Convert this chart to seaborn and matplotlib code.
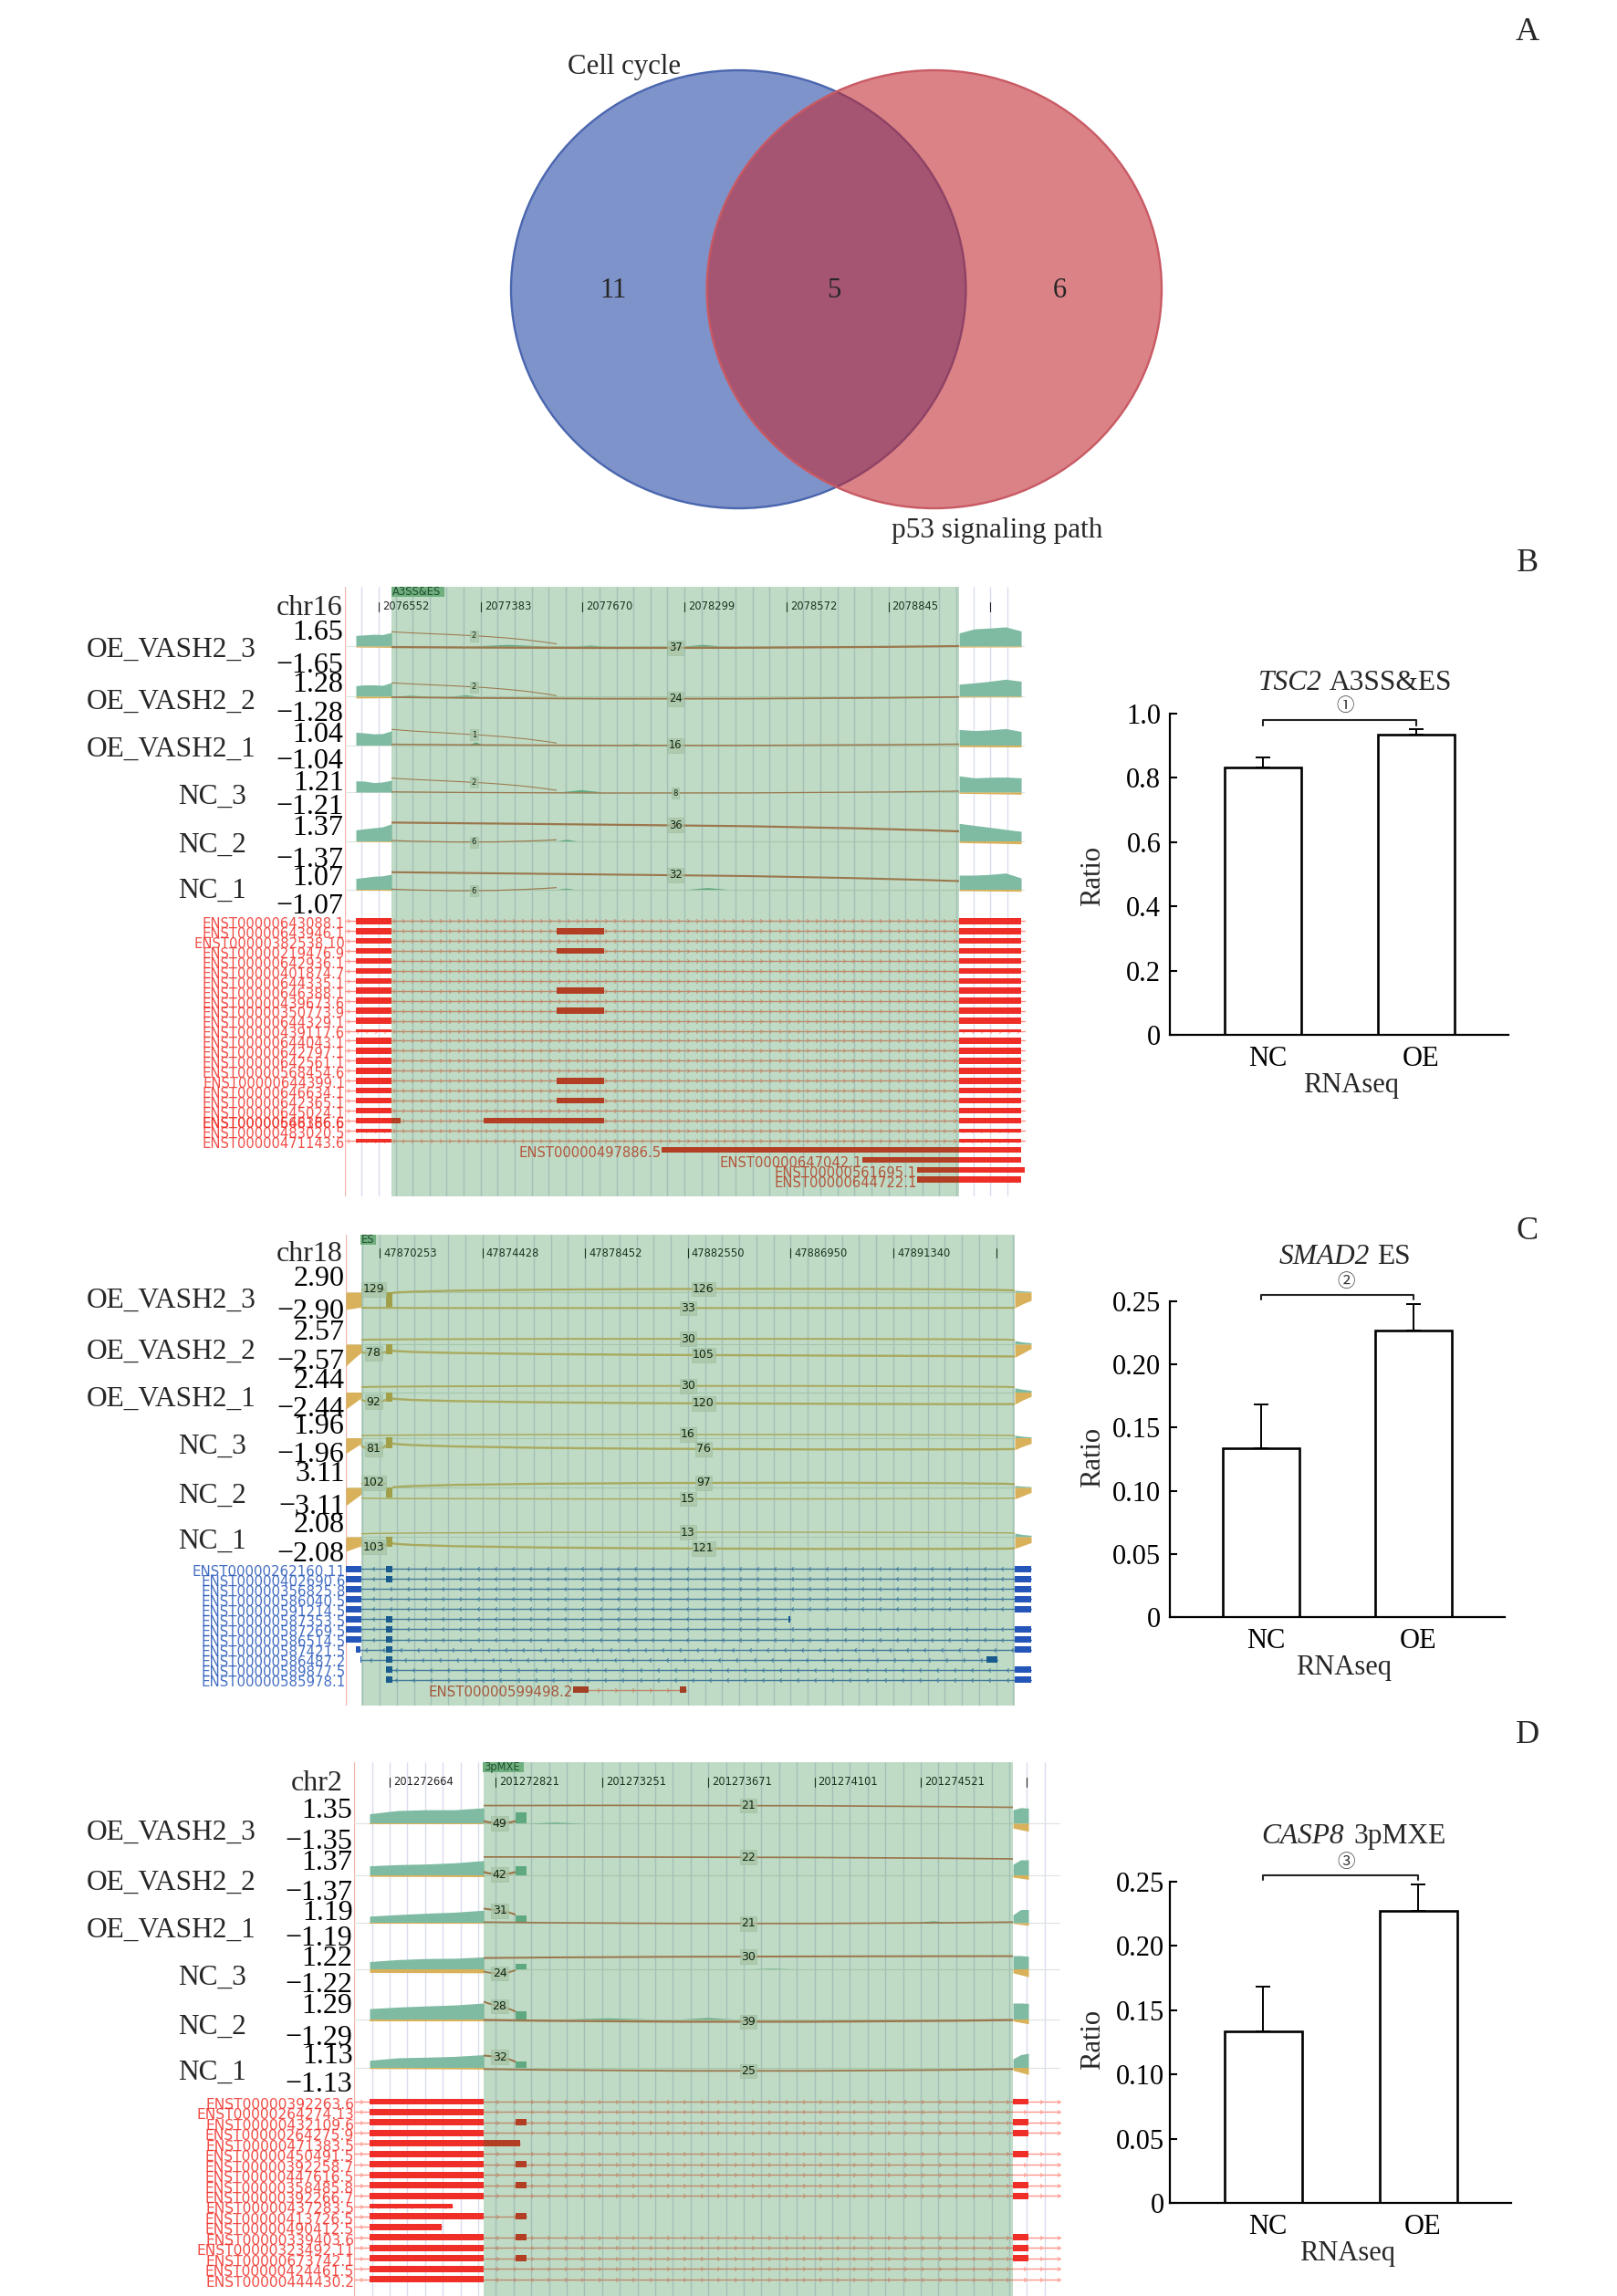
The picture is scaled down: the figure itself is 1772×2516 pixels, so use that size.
#Recreates the four panel figure: Venn diagram, then three splice plots with bar charts.
import numpy as np
import pandas as pd
import matplotlib
matplotlib.use("Agg")
import matplotlib.pyplot as plt
from matplotlib.patches import Circle, PathPatch
from matplotlib.path import Path
from matplotlib.transforms import ScaledTranslation
import seaborn as sns

#Venn data
venn_names = ["Cell cycle", "p53 signaling path"]
venn_counts = [11, 5, 6]

#Bar chart data
bar_groups = ["NC", "OE"]
B_ratio = [0.832, 0.936]
B_err = [0.032, 0.016]
C_ratio = [0.1336, 0.2268]
C_err = [0.0351, 0.0210]
D_ratio = [0.1336, 0.2270]
D_err = [0.0349, 0.0206]
B_yticks = [0, 0.2, 0.4, 0.6, 0.8, 1.0]
B_yticklabels = ["0", "0.2", "0.4", "0.6", "0.8", "1.0"]
CD_yticks = [0, 0.05, 0.10, 0.15, 0.20, 0.25]
CD_yticklabels = ["0", "0.05", "0.10", "0.15", "0.20", "0.25"]

#Track names and scales
samples = ["OE_VASH2_3", "OE_VASH2_2", "OE_VASH2_1", "NC_3", "NC_2", "NC_1"]
B_scales = [1.65, 1.28, 1.04, 1.21, 1.37, 1.07]
C_scales = [2.90, 2.57, 2.44, 1.96, 3.11, 2.08]
D_scales = [1.35, 1.37, 1.19, 1.22, 1.29, 1.13]
B_ticklabels = ["2076552", "2077383", "2077670", "2078299", "2078572", "2078845", ""]
C_ticklabels = ["47870253", "47874428", "47878452", "47882550", "47886950", "47891340", ""]
D_ticklabels = ["201272664", "201272821", "201273251", "201273671", "201274101", "201274521", ""]

#Exon spans, x in tick steps from the first tick
B_left = (-0.224, 0.125)
B_alt = (1.746, 2.211)
B_right = (5.694, 6.303)
C_left = (-0.329, -0.178)
C_mini = (0.062, 0.124)
C_right = (6.181, 6.341)
D_left = (-0.189, 0.885)
D_mini = (1.186, 1.289)
D_right = (5.868, 6.014)

B_left_cov = [[.65, .68, .72, .70, .83], [.73, .78, .78, .75, .94], [.97, .92, .85, .87, 1.08],
              [.95, .92, .80, .85, 1.0], [.69, .76, .82, .88, 1.07], [.77, .84, .92, .95, 1.07]]
B_right_cov = [[.80, 1.05, 1.10, 1.17, .92], [.83, .92, 1.03, 1.17, 1.03], [1.18, 1.10, 1.15, 1.25, 1.03],
               [1.37, 1.20, 1.25, 1.27, 1.20], [1.10, .97, .85, .72, .60], [1.0, 1.0, 1.05, 1.15, .80]]
B_left_neg = [[-.06, -.08], [-.12, -.10], [-.05, -.05], [-.03, -.03], [-.03, -.05], [-.06, -.08]]
B_right_neg = [[-.06, -.05], [-.06, -.05], [-.12, -.14], [-.10, -.18], [-.10, -.18], [-.10, -.14]]
B_bumps = [[(.91, 1.63, .10), (1.94, 2.21, .06), (3.0, 3.36, .10)],
           [(.16, .46, .07), (.72, .98, .10)],
           [(.87, 1.03, .25), (2.13, 2.21, .07), (2.4, 2.64, .10)],
           [(1.76, 2.21, .20), (.64, .79, .05)],
           [(1.75, 1.94, .10)],
           [(1.75, 1.92, .08), (3.03, 3.42, .12)]]

C_left_neg = [[-1.05, -.98, -.90], [-1.5, -1.0, -.56], [-1.2, -.8, -.40],
              [-1.1, -.75, -.40], [-1.1, -.75, -.40], [-1.0, -.8, -.62]]
C_mini_neg = [[-.90, -.90], [-.66, -.66], [-.68, -.68], [-.74, -.74], [-.60, -.60], [-.69, -.69]]
C_right_neg = [[-.95, -.70, -.50], [-.90, -.60, -.30], [-.85, -.55, -.30],
               [-.85, -.60, -.40], [-.70, -.50, -.30], [-.80, -.60, -.40]]
C_right_cov = [[.12, .08, .05], [.25, .15, .10], [.30, .20, .12],
               [.18, .10, .05], [.12, .08, .05], [.25, .15, .10]]

D_left_cov = [[.60, .80, .85, .85, .97], [.60, .68, .72, .80, .95], [.50, .62, .72, .80, .95],
              [.55, .70, .78, .80, .90], [.65, .75, .82, .88, 1.0], [.50, .68, .72, .78, .90]]
D_mini_cov = [[.70, .70], [.55, .55], [.54, .54], [.40, .40], [.47, .47], [.43, .43]]
D_right_cov = [[.85, .98, .95], [.70, 1.0, 1.0], [.60, 1.0, 1.0], [1.0, 1.0, .95], [1.0, 1.0, .98], [.60, .90, 1.0]]
D_left_neg = [[-.05, -.05], [-.10, -.12], [-.10, -.10], [-.27, -.30], [-.12, -.12], [-.08, -.12]]
D_right_neg = [[-.30, -.50], [-.15, -.30], [-.05, -.20], [-.30, -.60], [-.12, -.30], [-.20, -.50]]
D_bumps = [[(1.30, 1.82, .07)], [], [(4.92, 5.31, .15)], [(3.42, 3.78, .04)],
           [(1.67, 2.45, .07), (2.75, 3.23, .09)], []]

#Junctions: start, end, height at start, middle, end (fraction of scale), read count
B_junctions = [
    [(.125, 1.746, .87, .63, .13, 2), (.125, 5.694, -.06, -.11, 0, 37)],
    [(.125, 1.746, .92, .64, .04, 2), (.125, 5.694, -.06, -.17, -.05, 24)],
    [(.125, 1.746, 1.19, .79, .15, 1), (.125, 5.694, .06, -.03, .07, 16)],
    [(.125, 1.746, 1.18, .82, .15, 2), (.125, 5.694, .02, -.08, .08, 8)],
    [(.125, 5.694, 1.15, .98, .60, 36), (.125, 1.746, .03, -.07, .07, 6)],
    [(.125, 5.694, 1.21, 1.0, .58, 32), (.125, 1.746, .01, -.10, .12, 6)],
]
C_junctions = [
    [(-.178, .062, .10, .17, .10, 129), (.124, 6.181, -.05, .20, .10, 126), (-.178, 6.181, -.95, -.97, -.95, 33)],
    [(-.178, .062, -.50, -.62, -.50, 78), (-.178, 6.181, .30, .37, .30, 30), (.124, 6.181, -.44, -.75, -.84, 105)],
    [(-.178, .062, -.50, -.68, -.50, 92), (-.178, 6.181, .35, .44, .35, 30), (.124, 6.181, -.45, -.80, -.85, 120)],
    [(-.178, .062, -.50, -.80, -.50, 81), (-.178, 6.181, .15, .23, .15, 16), (.124, 6.181, -.40, -.80, -.80, 76)],
    [(-.178, .062, .20, .28, .20, 102), (.124, 6.181, 0, .28, .20, 97), (-.178, 6.181, -.65, -.70, -.65, 15)],
    [(-.178, .062, -.50, -.69, -.50, 103), (-.178, 6.181, .20, .31, .25, 13), (.124, 6.181, -.45, -.81, -.80, 121)],
]
D_junctions = [
    [(.885, 5.868, 1.11, 1.11, 1.0, 21), (.885, 1.186, .14, 0, .14, 49)],
    [(.885, 5.868, 1.19, 1.17, 1.06, 22), (.885, 1.186, .19, .03, .19, 42)],
    [(.885, 1.186, 1.07, .92, .60, 31), (.885, 5.868, .05, -.06, .05, 21)],
    [(.885, 5.868, .82, .93, .96, 30), (.885, 1.186, -.20, -.34, -.10, 24)],
    [(.885, 1.186, 1.09, .80, .46, 28), (.885, 5.868, -.06, -.17, -.06, 39)],
    [(.885, 1.186, .84, .72, .39, 32), (.885, 5.868, -.12, -.25, -.12, 25)],
]

#Transcripts
B_names = ["ENST00000643088.1", "ENST00000643946.1", "ENST00000382538.10", "ENST00000219476.9",
           "ENST00000642936.1", "ENST00000401874.7", "ENST00000644335.1", "ENST00000646388.1",
           "ENST00000439673.6", "ENST00000350773.9", "ENST00000644329.1", "ENST00000439117.6",
           "ENST00000644043.1", "ENST00000642797.1", "ENST00000642561.1", "ENST00000568454.6",
           "ENST00000644399.1", "ENST00000646634.1", "ENST00000642365.1", "ENST00000645024.1",
           "ENST00000648366.6", "ENST00000483020.5", "ENST00000471143.6",
           "ENST00000497886.5", "ENST00000647042.1", "ENST00000561695.1", "ENST00000644722.1"]
B_with_alt = [1, 3, 7, 9, 16, 18]
B_thin = {11: .28, 21: .38, 22: .38}
B_late_exons = [(2.775, 6.303), (4.745, 6.303), (5.282, 6.339), (5.282, 6.303)]
B_wide_exons = [(-.224, .215), (1.03, 2.211), (5.694, 6.303)]

C_names = ["ENST00000262160.11", "ENST00000402690.6", "ENST00000356825.8", "ENST00000586040.5",
           "ENST00000591214.5", "ENST00000587353.5", "ENST00000587269.5", "ENST00000586514.5",
           "ENST00000587421.5", "ENST00000586487.2", "ENST00000589877.5", "ENST00000585978.1",
           "ENST00000599498.2"]
C_exons = [[C_left, C_mini, C_right], [C_left, C_mini, C_right], [C_left, C_right], [C_left, C_right],
           [C_left, C_right], [C_left, C_mini, (3.979, 3.996)], [C_left, C_mini, C_right],
           [C_left, C_mini, C_right], [(-.231, -.187), C_mini, C_right],
           [(-.187, -.178), C_mini, (5.906, 6.009)], [C_mini, C_right], [C_mini, C_right],
           [(1.883, 2.034), (2.922, 2.984)]]
C_lines = [(-.329, 6.341)] * 5 + [(-.329, 3.996), (-.329, 6.341), (-.329, 6.341), (-.231, 6.341),
                                  (-.187, 6.009), (.062, 6.341), (.062, 6.341), (1.883, 2.984)]

D_names = ["ENST00000392263.6", "ENST00000264274.13", "ENST00000432109.6", "ENST00000264275.9",
           "ENST00000471383.5", "ENST00000450491.5", "ENST00000392258.7", "ENST00000447616.5",
           "ENST00000358485.8", "ENST00000392266.7", "ENST00000437283.5", "ENST00000413726.5",
           "ENST00000490412.5", "ENST00000339403.6", "ENST00000323492.11", "ENST00000673742.1",
           "ENST00000424461.5", "ENST00000444430.2"]
D_exons = [[D_left, D_right], [D_left], [D_left, D_mini, D_right], [D_left, D_right],
           [(-.189, 1.229)], [D_left, D_right], [D_left, D_mini], [D_left],
           [D_left, D_mini, D_right], [D_left, D_right], [(-.189, .593)], [D_left, D_mini],
           [(-.189, .49)], [D_left, D_mini, D_right], [D_left, D_right], [D_left, D_mini, D_right],
           [D_left], [D_left]]
D_line_ends = [6.314, 6.314, 6.314, 6.314, 1.229, 6.314, 6.314, 6.314, 6.314, 6.314, .593, 1.289,
               .49, 6.314, 6.314, 6.314, 6.314, 6.314]

#Page layout in pixels
W, H = 1772, 2516
GREEN = "#7FBBA3"
ORANGE = "#D8B15A"
RED = "#EE2E27"
BLUE = "#2455B8"

sns.set_theme(style="white")
plt.rcParams["font.family"] = ["Liberation Serif", "DejaVu Sans"]
plt.rcParams["axes.unicode_minus"] = True

fig = plt.figure(figsize=(W / 100, H / 100), dpi=100, facecolor="white")


def rect(left, top, right, bottom):
    return [left / W, 1 - bottom / H, (right - left) / W, (bottom - top) / H]


def put(x, y, s, **kw):
    kw.setdefault("fontsize", 22)
    kw.setdefault("ha", "center")
    kw.setdefault("va", "center")
    return fig.text(x / W, 1 - y / H, s, **kw)


#Panel A, the red circle lies over the blue edge
ax = fig.add_axes(rect(560, 77, 1273, 557))
ax.set_xlim(-1, 1.861)
ax.set_ylim(-1, 1)
ax.axis("off")
ax.add_patch(Circle((0, 0), 1, fc="#3B59AF", alpha=.65, ec="none"))
ax.add_patch(Circle((0, 0), 1, fc="none", ec="#4A66AE", lw=1.7, clip_on=False))
ax.add_patch(Circle((.861, 0), 1, fc="#C12830", alpha=.58, ec="none"))
ax.add_patch(Circle((.861, 0), 1, fc="none", ec="#C85A64", lw=1.7, clip_on=False))
put(684, 74, venn_names[0], fontsize=22.2)
put(1093, 581, venn_names[1], fontsize=22.5)
for x, n in zip([672, 914, 1161], venn_counts):
    put(x, 318, str(n), fontsize=22)
for y, s in zip([36, 618, 1350, 1901], "ABCD"):
    put(1674, y, s, fontsize=26)


def bar_panel(box, centers, ratio, err, yticks, yticklabels, bracket, mark, title, pos, pad):
    #box is left, top, right, bottom of the axes
    left, top, right, bottom = box
    ax = fig.add_axes(rect(*box))
    df = pd.DataFrame({"group": bar_groups, "ratio": ratio})
    sns.barplot(data=df, x="group", y="ratio", color="white", saturation=1, width=.5,
                edgecolor="black", linewidth=1.9, errorbar=None, ax=ax)
    ax.errorbar([0, 1], ratio, yerr=[[0, 0], err], fmt="none", ecolor="black",
                elinewidth=1.4, capsize=5.8, capthick=1.4)
    step = centers[1] - centers[0]
    ax.set_xlim((left - centers[0]) / step, (right - centers[0]) / step)
    ax.set_ylim(0, yticks[-1])
    ax.set_yticks(yticks)
    ax.set_yticklabels(yticklabels, fontsize=22)
    ax.tick_params(axis="y", direction="in", length=5.6, width=1.5, left=True, pad=pad, colors="black")
    ax.tick_params(axis="x", length=0, pad=9, labelsize=22, colors="black")
    for lab in ax.get_xticklabels():
        lab.set_transform(lab.get_transform() + ScaledTranslation(5 / 100, 0, fig.dpi_scale_trans))
    sns.despine(ax=ax)
    ax.spines["left"].set_linewidth(1.6)
    ax.spines["bottom"].set_linewidth(1.6)
    ax.spines["left"].set_color("black")
    ax.spines["bottom"].set_color("black")
    ax.set_xlabel("")
    ax.set_ylabel("")
    y_top, y_drop = bracket
    ax.plot([0, 0, 1, 1], [y_drop, y_top, y_top, y_drop], color="#222222", lw=1.5, clip_on=False)
    put(*mark[:2], mark[2], fontsize=14, family=["Noto Sans CJK SC"], color="#333333")
    #italic gene name, then the event type
    put(title[0], title[2], title[3], ha="right", va="baseline", style="italic", fontsize=22.6)
    put(title[1], title[2], title[4], ha="left", va="baseline", fontsize=22.6)
    put(pos[0], pos[1], "RNAseq")
    put(1198, pos[2], "Ratio", rotation=90)


bar_panel((1282, 782, 1653, 1134), (1384, 1552), B_ratio, B_err, B_yticks, B_yticklabels,
          (.980, .963), (1474, 774, "\u2460"), (1449, 1457, 756, "TSC2", "A3SS&ES"), (1481, 1189, 960), 7)
bar_panel((1282, 1426, 1649, 1772), (1382, 1549), C_ratio, C_err, CD_yticks, CD_yticklabels,
          (.2552, .2518), (1475, 1405, "\u2461"), (1501, 1509, 1385, "SMAD2", "ES"), (1473, 1827, 1597), 7)
bar_panel((1282, 2062, 1656, 2414), (1384, 1554), D_ratio, D_err, CD_yticks, CD_yticklabels,
          (.2551, .2515), (1475, 2040, "\u2462"), (1473, 1483, 2020, "CASP8", "3pMXE"), (1477, 2470, 2235), 4)


def fill_cov(ax, span, values, scale, color):
    xs = np.linspace(span[0], span[1], len(values))
    ax.fill_between(xs, 0, np.array(values) * scale, color=color, lw=0, clip_on=False)


def draw_junction(ax, junction, scale, color, size, bend):
    x0, x1, y0, ym, y1, count = junction
    dx = (x1 - x0) * bend
    c = (8 * ym - y0 - y1) / 6
    verts = [(x0, y0 * scale), (x0 + dx, c * scale), (x1 - dx, c * scale), (x1, y1 * scale)]
    codes = [Path.MOVETO, Path.CURVE4, Path.CURVE4, Path.CURVE4]
    ax.add_patch(PathPatch(Path(verts, codes), fc="none", ec=color, lw=.7 + min(count, 40) / 40,
                           clip_on=False))
    fs = size if count >= 10 else 6
    ax.text((x0 + x1) / 2, ym * scale, str(count), fontsize=fs, family="DejaVu Sans", ha="center",
            va="center", color="#111111", clip_on=False,
            bbox=dict(fc="#E4DFD6", ec="#C9D8CC", alpha=.75, pad=1, lw=.5))


def draw_transcript(ax, row, name, exons, line, label_x, color, line_color, height, step, direction, size=10.6):
    if line is not None:
        ax.plot(line, [row, row], color=line_color, lw=1, clip_on=False, zorder=1)
        xs = np.arange(line[0] + step / 2, line[1], step)
        arrow = Path([(-direction, 1), (0, 0), (-direction, -1)])
        ax.plot(xs, [row] * len(xs), ls="none", marker=arrow, ms=3.2, mfc="none", mec=line_color,
                mew=.7, clip_on=False, zorder=1)
    for start, end in exons:
        ax.barh(row, end - start, left=start, height=height, color=color, lw=0, zorder=2, clip_on=False)
    ax.text(label_x, row + .3, name, fontsize=size, family="DejaVu Sans", color=color, alpha=.85,
            ha="right", va="center", clip_on=False, zorder=3)


def gene_panel(box, origin, tick_step, row0, row_step, chrom, chrom_y, ticklabels, tag, tag_span,
               band, centers, halves, label_ys, scales, right_edge):
    left, top, right, bottom = box
    xlim = ((left - origin) / tick_step, (right - origin) / tick_step)

    #transcripts and grid sit at the back
    base = fig.add_axes(rect(*box), zorder=1)
    base.set_xlim(xlim)
    base.set_ylim((bottom - row0) / row_step, (top - row0) / row_step)
    base.axis("off")
    base.vlines(np.arange(-1, 38) / 6, 0, 1, transform=base.get_xaxis_transform(),
                color="#DADCEE", lw=1, zorder=0)
    base.axvline(xlim[0], color="#F2B5AE", lw=1, zorder=0)
    frac = lambda py: 1 - (py - top) / (bottom - top)
    label_y = chrom_y
    for i, lab in enumerate(ticklabels):
        base.plot([i, i], [frac(label_y - 5), frac(label_y + 5)], color="#222222", lw=.8,
                  transform=base.get_xaxis_transform(), zorder=4)
        base.text(i + 4 / tick_step, frac(label_y), lab, fontsize=8.3, family="DejaVu Sans", color="#222222",
                  ha="left", va="center", transform=base.get_xaxis_transform(), zorder=4)
    put(376, chrom_y + 2, chrom, fontsize=23, ha="right")

    #one small axes per sample
    tracks = []
    for name, c, h, ly, scale in zip(samples, centers, halves, label_ys, scales):
        ax = fig.add_axes(rect(left, c - h, right, c + h), zorder=2)
        ax.patch.set_visible(False)
        ax.set_xlim(xlim)
        ax.set_ylim(-scale, scale)
        sns.despine(ax=ax, left=True, bottom=True)
        ax.set_xticks([])
        ax.set_yticks([-scale, scale])
        ax.set_yticklabels(["\u2212%.2f" % scale, "%.2f" % scale], fontsize=23, color="black")
        ax.tick_params(axis="y", length=0, pad=1)
        ax.axhline(0, color="#DDE3DD", lw=.8, zorder=0)
        put(right_edge[name.startswith("NC")], ly + 3, name, fontsize=22.6, ha="right")
        tracks.append(ax)

    #translucent green band goes over everything inside it
    top_ax = fig.add_axes(rect(*box), zorder=3)
    top_ax.patch.set_visible(False)
    top_ax.set_xlim(xlim)
    top_ax.set_ylim(0, 1)
    top_ax.axis("off")
    top_ax.axvspan(band[0], band[1], color="#007018", alpha=.25, lw=0)
    top_ax.axvspan(tag_span[0], tag_span[1], ymin=1 - 11 / (bottom - top), ymax=1, color="#6FAF7E", lw=0)
    top_ax.text(tag_span[0] + .01, 1 - 5.5 / (bottom - top), tag, fontsize=8.3, family="DejaVu Sans",
                color="#1F4D2F", ha="left", va="center")
    return base, tracks


#Panel B
base, tracks = gene_panel((378, 643, 1123, 1311), 415, 111.7, 1009.3, 10.93, "chr16", 665, B_ticklabels,
                          "A3SS&ES", (.125, .645), (.125, 5.694),
                          [708, 763, 816.5, 868, 921.5, 974.5], [18, 16, 14.5, 13, 17.5, 15.5],
                          [709, 766, 818, 870, 923.6, 973], B_scales, (281, 270))
for i, ax in enumerate(tracks):
    scale = B_scales[i]
    fill_cov(ax, B_left, B_left_cov[i], scale, GREEN)
    fill_cov(ax, B_right, B_right_cov[i], scale, GREEN)
    fill_cov(ax, B_left, B_left_neg[i], scale, ORANGE)
    fill_cov(ax, B_right, B_right_neg[i], scale, ORANGE)
    for x0, x1, h in B_bumps[i]:
        ax.fill_between([x0, (x0 + x1) / 2, x1], 0, [0, h * scale, 0], color=GREEN, lw=0)
    for j in B_junctions[i]:
        draw_junction(ax, j, scale, "#D07A60", 8.3, 1 / 3)
for row, name in enumerate(B_names):
    height = B_thin.get(row, .61)
    if row < 23:
        exons = [B_left, B_alt, B_right] if row in B_with_alt else [B_left, B_right]
        if row == 20:
            exons = B_wide_exons
        draw_transcript(base, row, name, exons, (-.331, 6.339), -.331, RED, "#FD958B", height, .09, 1)
    else:
        late = B_late_exons[row - 23]
        draw_transcript(base, row - .06, name, [late], None, late[0], RED, "#FD958B", height, .09, 1)
#two labels sit on the same row here
base.text(-.331, 20.3, "ENST00000566186.6", fontsize=10.6, family="DejaVu Sans", color=RED, alpha=.85,
          ha="right", va="center", clip_on=False)

#Panel C
base, tracks = gene_panel((379, 1353, 1130, 1869), 416, 112.6, 1719.3, 11.03, "chr18", 1373, C_ticklabels,
                          "ES", (-.187, -.036), (-.178, 6.181),
                          [1416, 1473, 1525.5, 1575.5, 1630, 1684], [18, 16, 15.5, 15.5, 18, 16],
                          [1422, 1478, 1530, 1582, 1636, 1686], C_scales, (281, 270))
for i, ax in enumerate(tracks):
    scale = C_scales[i]
    fill_cov(ax, C_right, C_right_cov[i], scale, GREEN)
    fill_cov(ax, C_left, C_left_neg[i], scale, ORANGE)
    fill_cov(ax, C_mini, C_mini_neg[i], scale, ORANGE)
    fill_cov(ax, C_right, C_right_neg[i], scale, ORANGE)
    for j in C_junctions[i]:
        draw_junction(ax, j, scale, "#E2BE78", 9, .04)
for row, name in enumerate(C_names):
    is_red = row == 12
    label_x = C_lines[row][0] if is_red else -.329
    draw_transcript(base, row, name, C_exons[row], C_lines[row], label_x, "#D8302A" if is_red else BLUE,
                    "#FD958B" if is_red else "#5B7FC8", .64, .17, 1 if is_red else -1, size=10.8)

#Panel D
base, tracks = gene_panel((388, 1931, 1162, 2516), 427, 116.4, 2303, 11.45, "chr2", 1953, D_ticklabels,
                          "3pMXE", (.876, 1.263), (.885, 5.868),
                          [1998, 2054.5, 2107, 2157.5, 2212.5, 2265.5], [17.5, 16.5, 14.5, 14.5, 17.5, 15.5],
                          [2005, 2060, 2112, 2164, 2218, 2268], D_scales, (281, 270))
for i, ax in enumerate(tracks):
    scale = D_scales[i]
    fill_cov(ax, D_left, D_left_cov[i], scale, GREEN)
    fill_cov(ax, D_mini, D_mini_cov[i], scale, GREEN)
    fill_cov(ax, D_right, D_right_cov[i], scale, GREEN)
    fill_cov(ax, D_left, D_left_neg[i], scale, ORANGE)
    fill_cov(ax, D_right, D_right_neg[i], scale, ORANGE)
    for x0, x1, h in D_bumps[i]:
        ax.fill_between([x0, (x0 + x1) / 2, x1], 0, [0, h * scale, 0], color=GREEN, lw=0)
    for j in D_junctions[i]:
        draw_junction(ax, j, scale, "#D07A60", 9, 1 / 3)
for row, name in enumerate(D_names):
    height = .4 if row == 10 else .61
    draw_transcript(base, row, name, D_exons[row], (-.335, D_line_ends[row]), -.335, RED, "#FD958B",
                    height, .16, 1, size=11.2)

fig.savefig("out.png", dpi=100, facecolor="white")
